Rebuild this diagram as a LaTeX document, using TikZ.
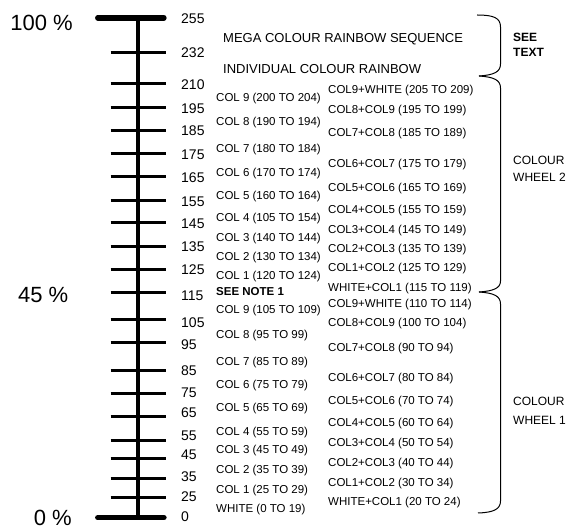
\documentclass[tikz,border=0pt]{standalone}
\usepackage{fontspec}
\setmainfont{Liberation Sans}
\begin{document}
\begin{tikzpicture}[x=1pt,y=-1pt,
  axisline/.style={line width=4pt},
  endbar/.style={line width=5.5pt, line cap=round},
  tickline/.style={line width=3pt},
  brack/.style={line width=1pt},
  pct/.style={font=\fontsize{22}{26}\selectfont, anchor=east, inner sep=0pt, text height=15.75pt, text depth=0pt},
  tlab/.style={font=\fontsize{14}{16}\selectfont, anchor=west, inner sep=0pt, text height=10pt, text depth=0pt},
  clab/.style={font=\fontsize{11.5}{13}\selectfont, anchor=west, inner sep=0pt, text height=8.23pt, text depth=0pt},
  blab/.style={font=\fontsize{11.5}{13}\selectfont\bfseries, anchor=west, inner sep=0pt, text height=8.23pt, text depth=0pt},
  ttl/.style={font=\fontsize{13}{15}\selectfont, anchor=west, inner sep=0pt, text height=9.3pt, text depth=0pt},
  slab/.style={font=\fontsize{12}{14}\selectfont, anchor=west, inner sep=0pt, text height=8.6pt, text depth=0pt},
  sbold/.style={slab, font=\fontsize{12}{14}\selectfont\bfseries}]
\useasboundingbox (0,0) rectangle (571,529);

% scale
\draw[axisline] (138.3,17.8) -- (138.3,517.7);
\draw[endbar] (97.8,17.8) -- (163.9,17.8);
\draw[endbar] (97.8,517.7) -- (163.9,517.7);
\foreach \ty in {53,84,107.3,131,154,177,200.7,223,247,270,293,320,343,371,394,417,441,459,479,498}
  \draw[tickline] (110.7,\ty) -- (165.7,\ty);

% tick labels
\foreach \v/\ly in {255/19,232/53,210/84.5,195/109,185/131,175/154.5,165/178,155/201.5,145/224,135/247,125/270,115/295.5,105/322.5,95/345,85/370.7,75/393,65/412.7,55/436,45/455,35/477,25/497,0/516.7}
  \node[tlab] (t\v) at (181,\ly) {\v};

% percentages
\node[pct] (p100) at (73,22.8) {100 \%};
\node[pct] (p45) at (68.5,294.2) {45 \%};
\node[pct] (p0) at (72,517.8) {0 \%};

% titles
\node[ttl] (mega) at (223,38) {MEGA COLOUR RAINBOW SEQUENCE};
\node[ttl] (indiv) at (223,69) {INDIVIDUAL COLOUR RAINBOW};

% left column
\node[clab] (l1) at (216,97.5) {COL 9 (200 TO 204)};
\node[clab] (l2) at (216,121) {COL 8 (190 TO 194)};
\node[clab] (l3) at (216,148) {COL 7 (180 TO 184)};
\node[clab] (l4) at (216,172) {COL 6 (170 TO 174)};
\node[clab] (l5) at (216,195) {COL 5 (160 TO 164)};
\node[clab] (l6) at (216,217) {COL 4 (105 TO 154)};
\node[clab] (l7) at (216,237) {COL 3 (140 TO 144)};
\node[clab] (l8) at (216,256.5) {COL 2 (130 TO 134)};
\node[clab] (l9) at (216,275.5) {COL 1 (120 TO 124)};
\node[blab] (note) at (216,291) {SEE NOTE 1};
\node[clab] (l10) at (216,309.5) {COL 9 (105 TO 109)};
\node[clab] (l11) at (216,334) {COL 8 (95 TO 99)};
\node[clab] (l12) at (216,361.7) {COL 7 (85 TO 89)};
\node[clab] (l13) at (216,384) {COL 6 (75 TO 79)};
\node[clab] (l14) at (216,407.7) {COL 5 (65 TO 69)};
\node[clab] (l15) at (216,431) {COL 4 (55 TO 59)};
\node[clab] (l16) at (216,449.5) {COL 3 (45 TO 49)};
\node[clab] (l17) at (216,469.5) {COL 2 (35 TO 39)};
\node[clab] (l18) at (216,489) {COL 1 (25 TO 29)};
\node[clab] (l19) at (216,508) {WHITE (0 TO 19)};

% right column
\node[clab] (r1) at (328,89) {COL9+WHITE (205 TO 209)};
\node[clab] (r2) at (328,109) {COL8+COL9 (195 TO 199)};
\node[clab] (r3) at (328,132) {COL7+COL8 (185 TO 189)};
\node[clab] (r4) at (328,163) {COL6+COL7 (175 TO 179)};
\node[clab] (r5) at (328,187) {COL5+COL6 (165 TO 169)};
\node[clab] (r6) at (328,209) {COL4+COL5 (155 TO 159)};
\node[clab] (r7) at (328,229) {COL3+COL4 (145 TO 149)};
\node[clab] (r8) at (328,248) {COL2+COL3 (135 TO 139)};
\node[clab] (r9) at (328,267) {COL1+COL2 (125 TO 129)};
\node[clab] (r10) at (328,287) {WHITE+COL1 (115 TO 119)};
\node[clab] (r11) at (328,303.5) {COL9+WHITE (110 TO 114)};
\node[clab] (r12) at (328,322.5) {COL8+COL9 (100 TO 104)};
\node[clab] (r13) at (328,347) {COL7+COL8 (90 TO 94)};
\node[clab] (r14) at (328,377.5) {COL6+COL7 (80 TO 84)};
\node[clab] (r15) at (328,400) {COL5+COL6 (70 TO 74)};
\node[clab] (r16) at (328,422.5) {COL4+COL5 (60 TO 64)};
\node[clab] (r17) at (328,442.5) {COL3+COL4 (50 TO 54)};
\node[clab] (r18) at (328,462.5) {COL2+COL3 (40 TO 44)};
\node[clab] (r19) at (328,482) {COL1+COL2 (30 TO 34)};
\node[clab] (r20) at (328,501) {WHITE+COL1 (20 TO 24)};

% brackets
\draw[brack] (477,15) .. controls (494,15) and (500.5,18) .. (500.5,27) -- (500.5,64) .. controls (500.5,72) and (494,75) .. (479,76);
\draw[brack] (479,76) .. controls (494,77) and (500.5,80) .. (500.5,88) -- (500.5,281) .. controls (500.5,288) and (494,291) .. (479,292);
\draw[brack] (479,292) .. controls (494,293) and (500.5,296) .. (500.5,304) -- (500.5,501) .. controls (500.5,509) and (494,512.5) .. (478,513);

% side labels
\node[sbold] (see) at (513,37.5) {SEE};
\node[sbold] (text) at (513,52.5) {TEXT};
\node[slab] (cw2a) at (513,160) {COLOUR};
\node[slab] (cw2b) at (513,177) {WHEEL 2};
\node[slab] (cw1a) at (513,401) {COLOUR};
\node[slab] (cw1b) at (513,420) {WHEEL 1};
\end{tikzpicture}
\end{document}
